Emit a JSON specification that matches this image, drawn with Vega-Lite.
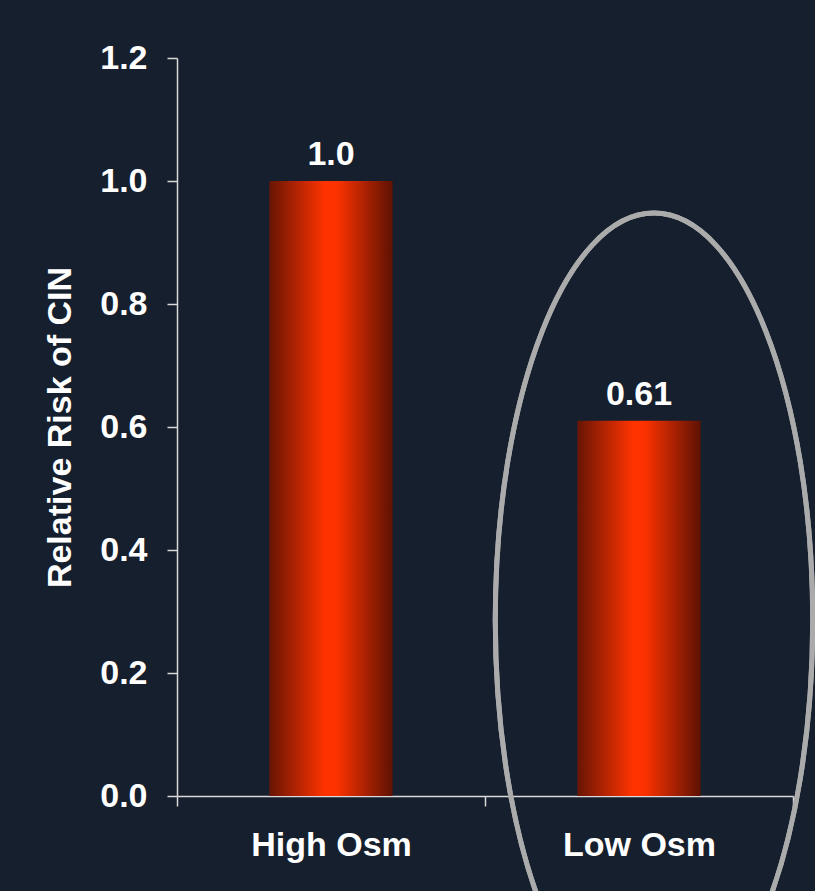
{
  "$schema": "https://vega.github.io/schema/vega-lite/v6.json",
  "autosize": "none",
  "width": 616,
  "height": 738,
  "padding": {"left": 177, "top": 58, "right": 22, "bottom": 95},
  "background": "#161f2d",
  "config": {
    "view": {"stroke": null},
    "font": "Liberation Sans",
    "axis": {
      "domainColor": "#d9d9d9",
      "domainWidth": 1.5,
      "tickColor": "#d9d9d9",
      "tickWidth": 1.5,
      "tickSize": 10,
      "labelColor": "#ffffff",
      "labelFont": "Liberation Sans",
      "labelFontWeight": "bold",
      "labelFontSize": 34,
      "titleColor": "#ffffff",
      "titleFont": "Liberation Sans",
      "titleFontWeight": "bold",
      "titleFontSize": 34,
      "grid": false
    }
  },
  "data": {
    "values": [
      {"group": "High Osm", "risk": 1.0, "label": "1.0"},
      {"group": "Low Osm", "risk": 0.61, "label": "0.61"}
    ]
  },
  "encoding": {
    "x": {
      "field": "group",
      "type": "nominal",
      "sort": null,
      "scale": {"paddingInner": 0, "paddingOuter": 0},
      "axis": {"title": null, "labelAngle": 0, "labelPadding": 22, "tickBand": "extent"}
    },
    "y": {
      "field": "risk",
      "type": "quantitative",
      "scale": {"domain": [0, 1.2], "nice": false},
      "axis": {
        "title": "Relative Risk of CIN",
        "values": [0, 0.2, 0.4, 0.6, 0.8, 1.0, 1.2],
        "format": ".1f",
        "labelPadding": 20,
        "titlePadding": 22
      }
    }
  },
  "layer": [
    {
      "mark": {
        "type": "bar",
        "width": {"band": 0.4},
        "color": {
          "gradient": "linear",
          "x1": 0, "x2": 1, "y1": 0, "y2": 0,
          "stops": [
            {"offset": 0, "color": "#681505"},
            {"offset": 0.45, "color": "#ff3300"},
            {"offset": 0.55, "color": "#fb3200"},
            {"offset": 1, "color": "#5e1204"}
          ]
        }
      }
    },
    {
      "mark": {"type": "text", "baseline": "alphabetic", "dy": -16, "color": "#ffffff", "fontSize": 34, "fontWeight": "bold", "font": "Liberation Sans"},
      "encoding": {"text": {"field": "label"}}
    },
    {
      "mark": {
        "type": "point",
        "filled": false,
        "shape": "M -0.39 0 A 0.39 1 0 1 0 0.39 0 A 0.39 1 0 1 0 -0.39 0 Z",
        "size": 662596,
        "stroke": "#ababab",
        "strokeWidth": 5,
        "opacity": 1,
        "xOffset": 15
      },
      "encoding": {
        "x": {"datum": "Low Osm", "type": "nominal"},
        "y": {"datum": 0.286, "type": "quantitative"}
      }
    }
  ]
}
